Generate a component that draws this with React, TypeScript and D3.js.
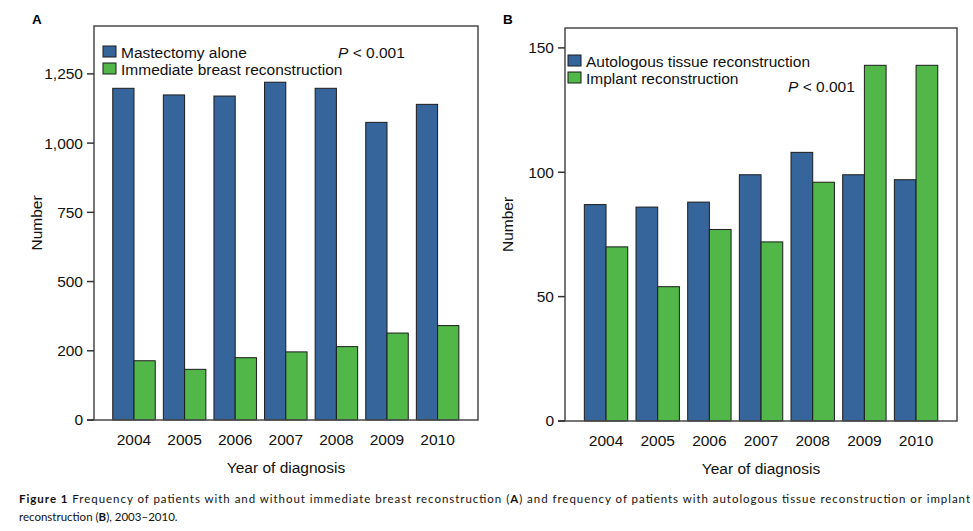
import React from "react";
import * as d3 from "d3";

const years = ["2004", "2005", "2006", "2007", "2008", "2009", "2010"];

// Panel A
const mastectomyAlone = [1198, 1174, 1170, 1220, 1198, 1075, 1140];
const immediateReconstruction = [214, 183, 225, 246, 265, 314, 341];
const aTickValues = [0, 250, 500, 750, 1000, 1250];
const aTickLabels = ["0", "200", "500", "750", "1,000", "1,250"];

// Panel B
const autologous = [87, 86, 88, 99, 108, 99, 97];
const implant = [70, 54, 77, 72, 96, 143, 143];
const bTickValues = [0, 50, 100, 150];
const bTickLabels = ["0", "50", "100", "150"];

const BLUE = "#35659a";
const GREEN = "#50b748";
const FONT = "'Liberation Sans', Arial, sans-serif";

interface PanelProps {
  letter: string;
  frame: { left: number; right: number; top: number; bottom: number };
  bandRange: [number, number];
  yMax: number;
  ticks: number[];
  tickLabels: string[];
  series: [number[], number[]];
  legend: [string, string];
  legendPos: { x: number; y: number };
  pPos: { x: number; y: number };
}

function Panel(props: PanelProps) {
  const { letter, frame, bandRange, yMax, ticks, tickLabels, series, legend, legendPos, pPos } = props;

  const x = d3.scaleBand().domain(years).range(bandRange).paddingInner(0.16).paddingOuter(0.08);
  const sub = d3.scaleBand().domain(["0", "1"]).range([0, x.bandwidth()]);
  const y = d3.scaleLinear().domain([0, yMax]).range([frame.bottom, frame.top]);
  const colors = [BLUE, GREEN];
  const cx = (frame.left + frame.right) / 2;
  const cy = (frame.top + frame.bottom) / 2;

  return (
    <g fontFamily={FONT}>
      <text x={frame.left - 62} y={24} fontSize={13.5} fontWeight="bold">{letter}</text>

      {series.map((vals, si) =>
        vals.map((v, i) => (
          <rect
            key={`${si}-${i}`}
            x={(x(years[i]) ?? 0) + (sub(String(si)) ?? 0)}
            y={y(v)}
            width={sub.bandwidth()}
            height={y(0) - y(v)}
            fill={colors[si]}
            stroke="#1c1c1c"
            strokeWidth={1}
          />
        ))
      )}

      <path
        d={`M${frame.left},${frame.bottom}V${frame.top}H${frame.right}V${frame.bottom}H${frame.left}`}
        fill="none"
        stroke="#4a4a4a"
        strokeWidth={1.5}
      />

      {ticks.map((t, i) => (
        <g key={t}>
          <line x1={frame.left - 7} x2={frame.left} y1={y(t)} y2={y(t)} stroke="#333" strokeWidth={1.5} />
          <text x={frame.left - 11} y={y(t)} dy="0.35em" textAnchor="end" fontSize={15.5} fill="#111">
            {tickLabels[i]}
          </text>
        </g>
      ))}
      <line x1={frame.left - 7} x2={frame.left} y1={frame.bottom} y2={frame.bottom} stroke="#333" strokeWidth={1.5} />

      {years.map((yr) => (
        <text
          key={yr}
          x={(x(yr) ?? 0) + x.bandwidth() / 2}
          y={frame.bottom + 25}
          textAnchor="middle"
          fontSize={15.5}
          fill="#111"
        >
          {yr}
        </text>
      ))}

      <text x={cx} y={frame.bottom + 53} textAnchor="middle" fontSize={15.5} fill="#111">
        Year of diagnosis
      </text>
      <text
        transform={`translate(${frame.left - 52},${cy}) rotate(-90)`}
        textAnchor="middle"
        fontSize={15.5}
        fill="#111"
      >
        Number
      </text>

      {legend.map((label, i) => (
        <g key={label} transform={`translate(${legendPos.x},${legendPos.y + i * 17})`}>
          <rect x={0} y={-12} width={13} height={11} fill={colors[i]} stroke="#1c1c1c" strokeWidth={1} />
          <text x={18} y={0} fontSize={15.5} fill="#111">{label}</text>
        </g>
      ))}

      <text x={pPos.x} y={pPos.y} fontSize={15.5} fill="#111">
        <tspan fontStyle="italic">P</tspan> {"< 0.001"}
      </text>
    </g>
  );
}

export default function App() {
  return (
    <svg
      width={973}
      height={531}
      style={{ position: "absolute", left: 0, top: 0, background: "#fff" }}
    >
      <Panel
        letter="A"
        frame={{ left: 94, right: 478, top: 26, bottom: 420 }}
        bandRange={[108.7, 462.9]}
        yMax={1423}
        ticks={aTickValues}
        tickLabels={aTickLabels}
        series={[mastectomyAlone, immediateReconstruction]}
        legend={["Mastectomy alone", "Immediate breast reconstruction"]}
        legendPos={{ x: 103, y: 58 }}
        pPos={{ x: 338, y: 58 }}
      />
      <Panel
        letter="B"
        frame={{ left: 565, right: 957, top: 28, bottom: 421 }}
        bandRange={[580.2, 941.9]}
        yMax={158}
        ticks={bTickValues}
        tickLabels={bTickLabels}
        series={[autologous, implant]}
        legend={["Autologous tissue reconstruction", "Implant reconstruction"]}
        legendPos={{ x: 568, y: 67 }}
        pPos={{ x: 788, y: 92 }}
      />

      <g fontFamily="Lato, 'Open Sans', sans-serif" fontSize={11.5} fill="#111">
        <text x={19} y={503} textLength={951} lengthAdjust="spacing">
          <tspan fontWeight="bold">Figure 1</tspan>
          {" Frequency of patients with and without immediate breast reconstruction ("}
          <tspan fontWeight="bold">A</tspan>
          {") and frequency of patients with autologous tissue reconstruction or implant"}
        </text>
        <text x={19} y={521}>
          {"reconstruction ("}
          <tspan fontWeight="bold">B</tspan>
          {"), 2003–2010."}
        </text>
      </g>
    </svg>
  );
}
